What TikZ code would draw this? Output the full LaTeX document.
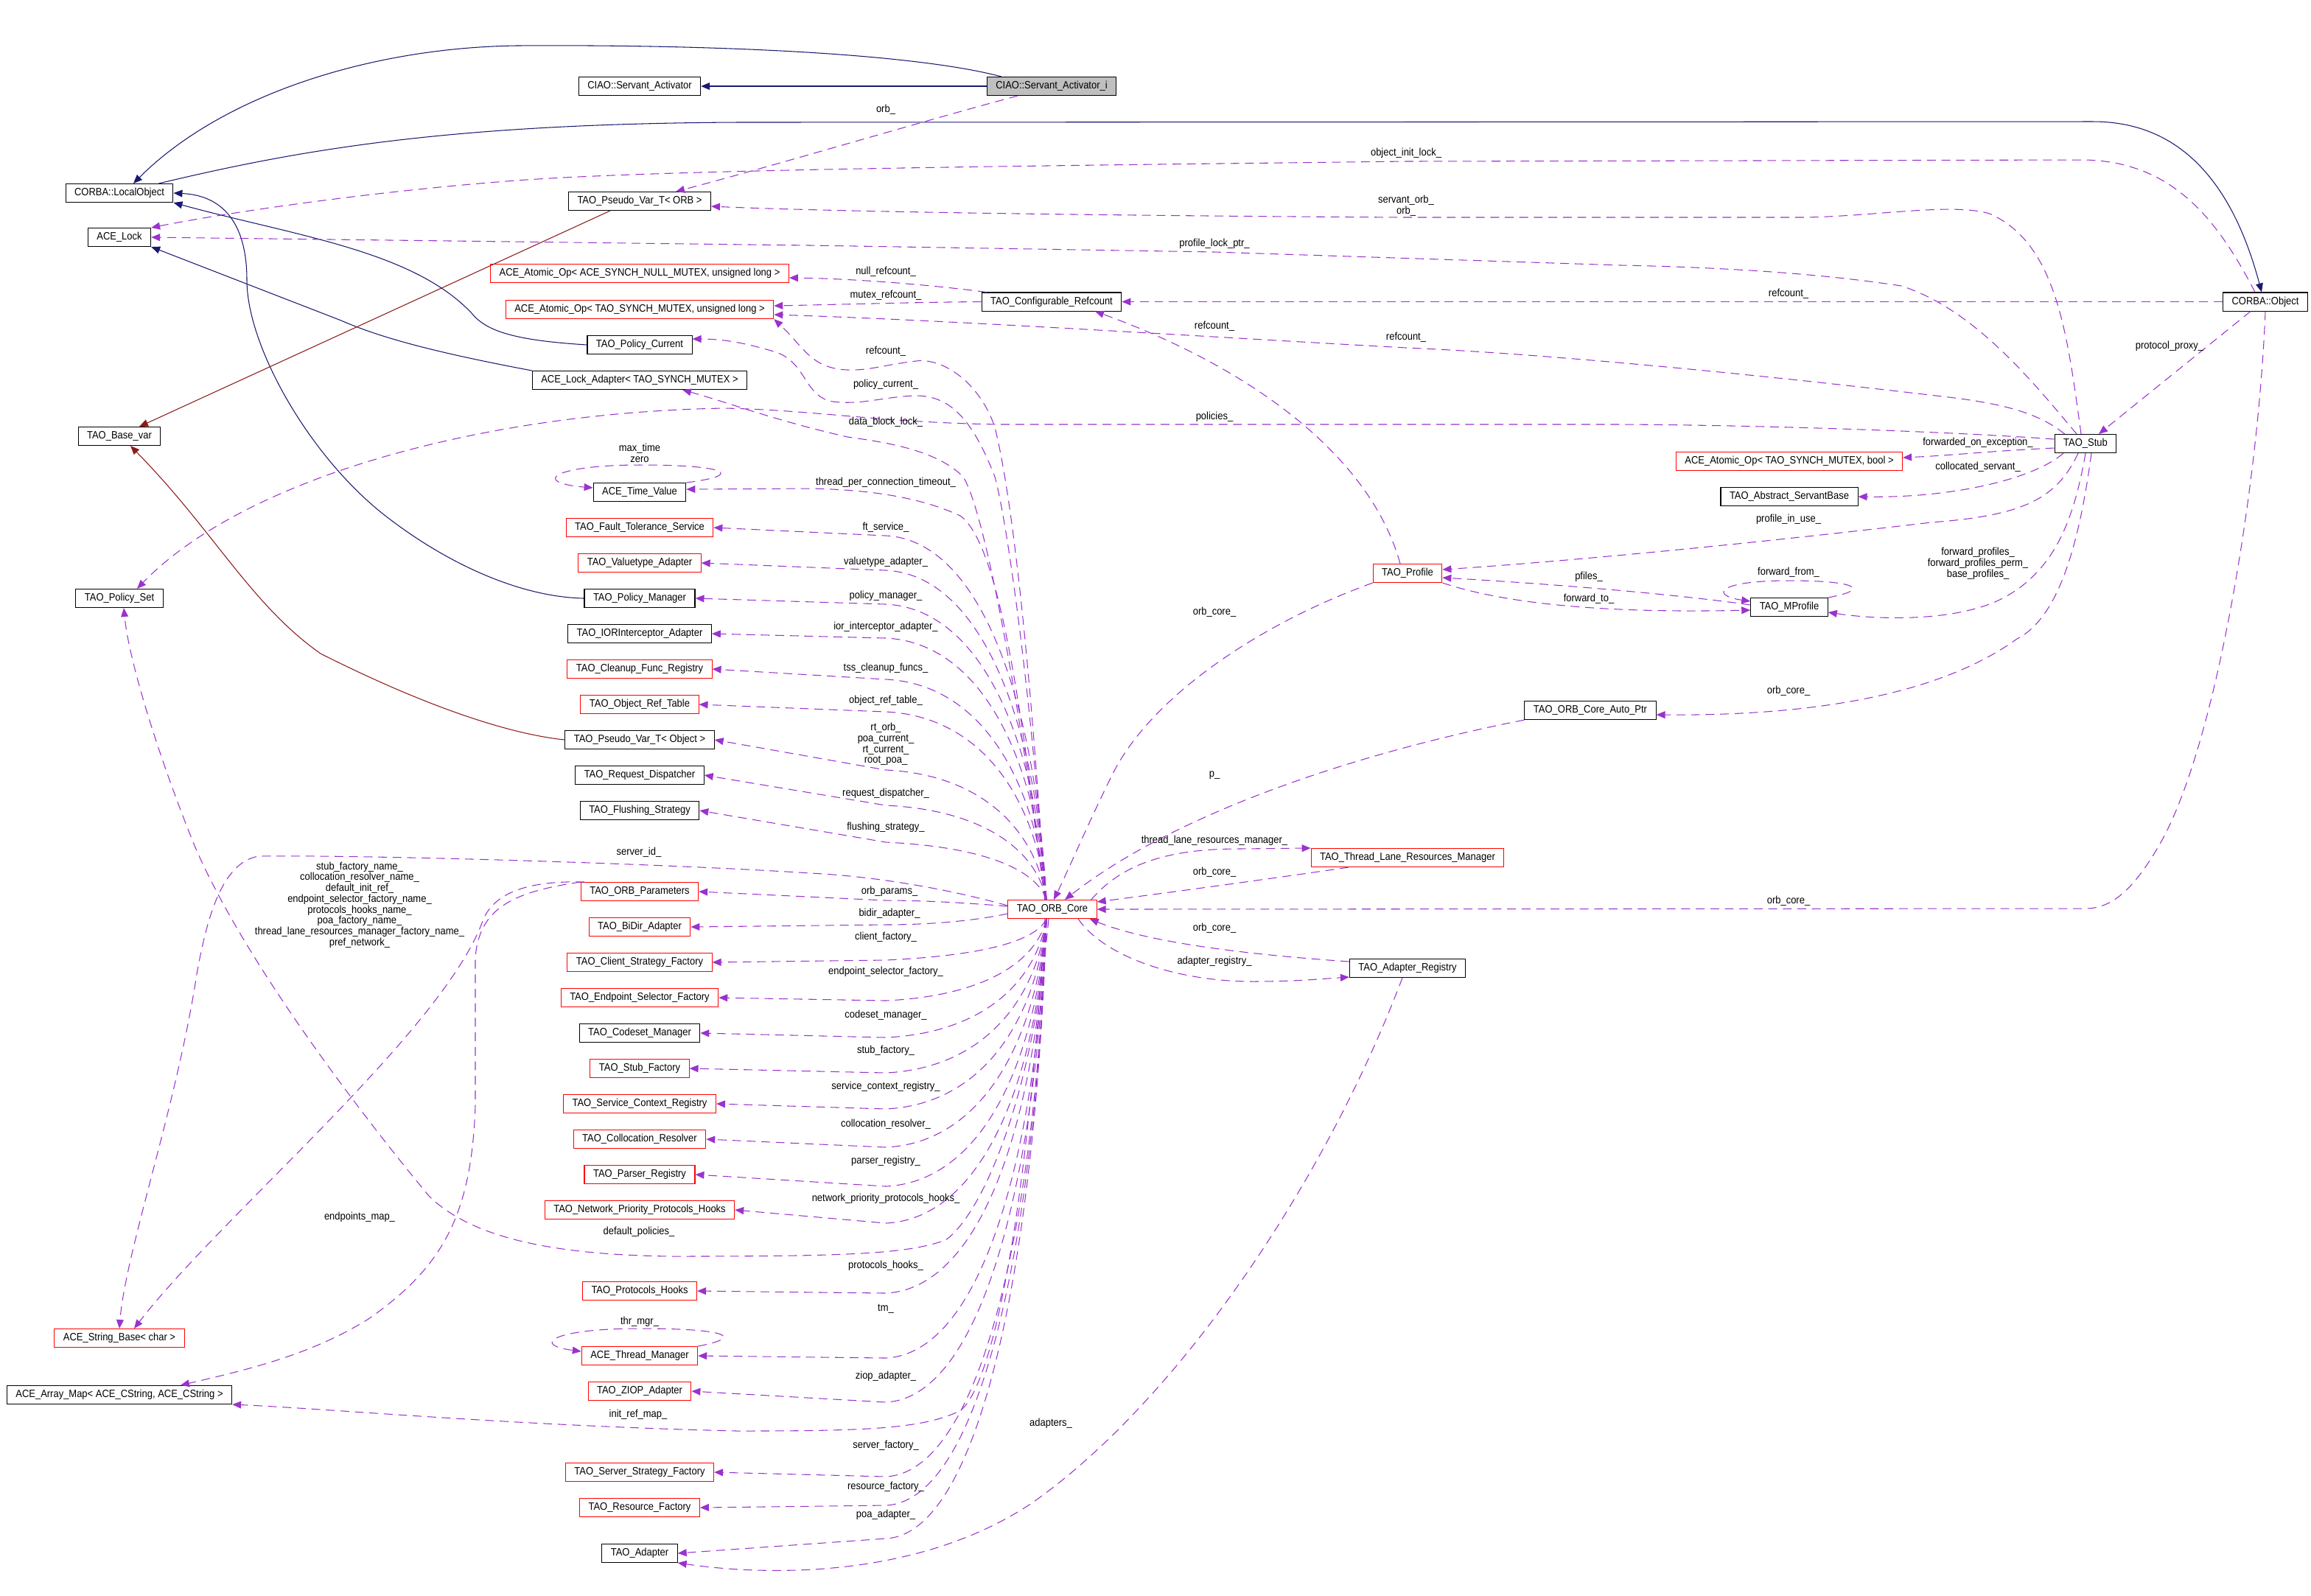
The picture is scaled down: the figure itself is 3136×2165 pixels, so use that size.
\documentclass[tikz,border=0pt]{standalone}
\usepackage{fontspec}
\setmainfont{Liberation Sans}[FakeStretch=0.9]
\usetikzlibrary{arrows.meta}
\definecolor{orchid}{HTML}{9A32CD}
\definecolor{nuit}{HTML}{191970}
\definecolor{brique}{HTML}{8B1A1A}
\definecolor{gris}{HTML}{BFBFBF}

\begin{document}
\begin{tikzpicture}[
  x=0.01cm, y=-0.01cm,
  font=\fontsize{4.1pt}{4.2pt}\selectfont,
  classe/.style={draw, line width=0.3pt, fill=white, inner xsep=0.12cm, inner ysep=0pt, minimum height=0.25cm},
  classeR/.style={classe, draw=red},
  herit/.style={draw=nuit, line width=0.3pt, -{Triangle[length=3.4pt, width=2.8pt]}},
  prive/.style={herit, draw=brique},
  usage/.style={draw=orchid, line width=0.3pt, dash pattern=on 3.4pt off 2.2pt, -{Triangle[length=3.4pt, width=2.8pt]}},
  etiq/.style={align=center, inner sep=0pt}
]
  \useasboundingbox (0,0) rectangle (3136,2165);
  % Classes
  \node[classe, fill=gris] (sai) at (1427,117) {CIAO::Servant\_Activator\_i};
  \node[classe] (sa) at (868,117) {CIAO::Servant\_Activator};
  \node[classe] (lobj) at (162,262) {CORBA::LocalObject};
  \node[classe] (lock) at (162,322) {ACE\_Lock};
  \node[classe] (pvorb) at (868,273) {TAO\_Pseudo\_Var\_T< ORB >};
  \node[classeR] (aonull) at (868,371) {ACE\_Atomic\_Op< ACE\_SYNCH\_NULL\_MUTEX, unsigned long >};
  \node[classeR] (aoul) at (868,420) {ACE\_Atomic\_Op< TAO\_SYNCH\_MUTEX, unsigned long >};
  \node[classe] (pcur) at (868,468) {TAO\_Policy\_Current};
  \node[classe] (lad) at (868,516) {ACE\_Lock\_Adapter< TAO\_SYNCH\_MUTEX >};
  \node[classe] (basevar) at (162,592) {TAO\_Base\_var};
  \node[classe] (tv) at (868,668) {ACE\_Time\_Value};
  \node[classe] (refc) at (1427,409.5) {TAO\_Configurable\_Refcount};
  \node[classe] (obj) at (3074,409.5) {CORBA::Object};
  \node[classe] (stub) at (2830,602) {TAO\_Stub};
  \node[classeR] (aobool) at (2428,626) {ACE\_Atomic\_Op< TAO\_SYNCH\_MUTEX, bool >};
  \node[classe] (asb) at (2428,674) {TAO\_Abstract\_ServantBase};
  \node[classeR] (ft) at (868,716) {TAO\_Fault\_Tolerance\_Service};
  \node[classeR] (vta) at (868,764) {TAO\_Valuetype\_Adapter};
  \node[classe] (pset) at (162,812) {TAO\_Policy\_Set};
  \node[classe] (pman) at (868,812) {TAO\_Policy\_Manager};
  \node[classe] (ior) at (868,860) {TAO\_IORInterceptor\_Adapter};
  \node[classeR] (cfr) at (868,908) {TAO\_Cleanup\_Func\_Registry};
  \node[classeR] (ort) at (868,956) {TAO\_Object\_Ref\_Table};
  \node[classe] (pvobj) at (868,1004) {TAO\_Pseudo\_Var\_T< Object >};
  \node[classe] (rd) at (868,1052) {TAO\_Request\_Dispatcher};
  \node[classe] (fs) at (868,1100) {TAO\_Flushing\_Strategy};
  \node[classeR] (op) at (868,1210) {TAO\_ORB\_Parameters};
  \node[classeR] (bidir) at (868,1258) {TAO\_BiDir\_Adapter};
  \node[classeR] (csf) at (868,1306) {TAO\_Client\_Strategy\_Factory};
  \node[classeR] (esf) at (868,1354) {TAO\_Endpoint\_Selector\_Factory};
  \node[classe] (csm) at (868,1402) {TAO\_Codeset\_Manager};
  \node[classeR] (sf) at (868,1450) {TAO\_Stub\_Factory};
  \node[classeR] (scr) at (868,1498) {TAO\_Service\_Context\_Registry};
  \node[classeR] (cr) at (868,1546) {TAO\_Collocation\_Resolver};
  \node[classeR] (pr) at (868,1594) {TAO\_Parser\_Registry};
  \node[classeR] (npph) at (868,1642) {TAO\_Network\_Priority\_Protocols\_Hooks};
  \node[classeR] (ph) at (868,1752) {TAO\_Protocols\_Hooks};
  \node[classeR] (tm) at (868,1840) {ACE\_Thread\_Manager};
  \node[classeR] (ziop) at (868,1888) {TAO\_ZIOP\_Adapter};
  \node[classeR] (ssf) at (868,1998) {TAO\_Server\_Strategy\_Factory};
  \node[classeR] (rf) at (868,2046) {TAO\_Resource\_Factory};
  \node[classe] (adp) at (868,2108) {TAO\_Adapter};
  \node[classeR] (sbase) at (162,1816) {ACE\_String\_Base< char >};
  \node[classe] (amap) at (162,1893) {ACE\_Array\_Map< ACE\_CString, ACE\_CString >};
  \node[classeR] (core) at (1428,1234) {TAO\_ORB\_Core};
  \node[classeR] (prof) at (1910,778) {TAO\_Profile};
  \node[classe] (mprof) at (2428,824) {TAO\_MProfile};
  \node[classe] (autop) at (2158,964) {TAO\_ORB\_Core\_Auto\_Ptr};
  \node[classeR] (tlrm) at (1910,1164) {TAO\_Thread\_Lane\_Resources\_Manager};
  \node[classe] (areg) at (1910,1314) {TAO\_Adapter\_Registry};

  % Heritage
  \draw[herit] (sai.west) -- (sa.east);
  \draw[herit] ([xshift=0.2cm]sai.north west) .. controls (1250,75) and (1000,60) .. (700,62) .. controls (500,65) and (300,130) .. ([xshift=0.19cm]lobj.north);
  \draw[herit] ([xshift=-0.2cm]lobj.north east) .. controls (400,205) and (600,168) .. (1000,166) -- (2840,165) .. controls (2960,165) and (3030,250) .. ([xshift=-0.05cm]obj.north);
  \draw[herit] (pcur.west) .. controls (700,462) and (660,450) .. (640,425) .. controls (560,340) and (400,320) .. (lobj.south east);
  \draw[herit] (pman.west) .. controls (700,810) and (600,760) .. (523,700) .. controls (420,620) and (335,470) .. (335,380) .. controls (335,300) and (300,265) .. (lobj.east);
  \draw[herit] (lad.north west) .. controls (600,480) and (520,460) .. (463,435) -- (lock.south east);
  \draw[prive] ([xshift=-0.4cm]pvorb.south) -- ([xshift=0.27cm]basevar.north);
  \draw[prive] (pvobj.west) .. controls (680,995) and (560,950) .. (435,887) .. controls (340,820) and (290,720) .. ([xshift=0.15cm]basevar.south);

  % Membres du Servant_Activator_i et de CORBA::Object
  \draw[usage] ([xshift=-0.46cm]sai.south) .. controls (1250,165) and (1050,225) .. ([xshift=0.49cm]pvorb.north) node[etiq] at (1202,149) {orb\_};
  \draw[usage] ([xshift=-0.14cm]obj.north) .. controls (3010,300) and (2950,220) .. (2830,217) -- (1908,219) .. controls (1400,225) and (900,230) .. (700,245) .. controls (500,260) and (300,290) .. (lock.north east) node[etiq] at (1908,208) {object\_init\_lock\_};
  \draw[usage] (obj.west) -- (refc.east) node[etiq] at (2427,399) {refcount\_};
  \draw[usage] ([xshift=-0.2cm]obj.south) -- ([xshift=0.18cm]stub.north) node[etiq] at (2944,470) {protocol\_proxy\_};
  \draw[usage] (obj.south) .. controls (3065,650) and (3010,1000) .. (2934,1140) .. controls (2900,1200) and (2870,1233) .. (2830,1233) -- (core.east) node[etiq] at (2427,1223) {orb\_core\_};

  % Membres de TAO_Stub
  \draw[usage] ([xshift=-0.06cm]stub.north) .. controls (2805,450) and (2790,330) .. (2700,290) .. controls (2650,275) and (2550,293) .. (2450,295) -- (1908,295) .. controls (1400,292) and (1100,286) .. ([yshift=-0.07cm]pvorb.east) node[etiq] at (1908,279) {servant\_orb\_\\orb\_};
  \draw[usage] ([xshift=-0.12cm]stub.north) .. controls (2760,520) and (2680,420) .. (2580,388) .. controls (2450,368) and (2300,362) .. (2200,360) -- (1648,342) -- (1100,333) -- (lock.east) node[etiq] at (1648,331) {profile\_lock\_ptr\_};
  \draw[usage] ([xshift=0.14cm]stub.north west) .. controls (2760,555) and (2700,545) .. (2618,536) .. controls (2400,510) and (2100,480) .. (1908,472) .. controls (1600,455) and (1300,435) .. ([yshift=-0.07cm]aoul.east) node[etiq] at (1908,458) {refcount\_};
  \draw[usage] ([yshift=0.06cm]stub.west) .. controls (2650,586) and (2400,577) .. (2200,576) -- (1360,576) .. controls (1200,574) and (1100,556) .. (982,554) .. controls (650,560) and (330,650) .. ([xshift=0.24cm]pset.north) node[etiq] at (1648,566) {policies\_};
  \draw[usage] ([yshift=-0.06cm]stub.west) .. controls (2700,612) and (2650,618) .. ([yshift=0.05cm]aobool.east) node[etiq] at (2684,601) {forwarded\_on\_exception\_};
  \draw[usage] ([xshift=-0.3cm]stub.south) .. controls (2760,650) and (2650,676) .. (asb.east) node[etiq] at (2684,634) {collocated\_servant\_};
  \draw[usage] ([xshift=-0.1cm]stub.south) .. controls (2790,680) and (2740,700) .. (2620,709) .. controls (2400,735) and (2150,760) .. ([yshift=0.05cm]prof.east) node[etiq] at (2427,705) {profile\_in\_use\_};
  \draw[usage] (stub.south) .. controls (2815,700) and (2790,780) .. (2707,817) .. controls (2640,845) and (2540,840) .. ([yshift=-0.07cm]mprof.east) node[etiq] at (2684,765) {forward\_profiles\_\\forward\_profiles\_perm\_\\base\_profiles\_};
  \draw[usage] ([xshift=0.08cm]stub.south) .. controls (2820,750) and (2790,840) .. (2737,867) .. controls (2650,930) and (2500,972) .. ([yshift=-0.06cm]autop.east) node[etiq] at (2427,938) {orb\_core\_};

  % Refcount, Profile, MProfile
  \draw[usage] ([xshift=0.07cm]refc.north west) .. controls (1250,385) and (1150,378) .. ([yshift=-0.06cm]aonull.east) node[etiq] at (1202,369) {null\_refcount\_};
  \draw[usage] (refc.west) .. controls (1250,410) and (1150,413) .. ([yshift=0.05cm]aoul.east) node[etiq] at (1202,401) {mutex\_refcount\_};
  \draw[usage] ([xshift=-0.1cm]prof.north) .. controls (1860,620) and (1700,500) .. ([xshift=0.59cm]refc.south) node[etiq] at (1648,443) {refcount\_};
  \draw[usage] (prof.south west) .. controls (1700,850) and (1560,950) .. (1510,1050) .. controls (1480,1110) and (1450,1180) .. ([xshift=0.02cm]core.north) node[etiq] at (1648,831) {orb\_core\_};
  \draw[usage] ([yshift=0.03cm]mprof.west) .. controls (2300,810) and (2150,795) .. ([yshift=-0.06cm]prof.east) node[etiq] at (2156,783) {pfiles\_};
  \draw[usage] (prof.south east) .. controls (2030,815) and (2150,833) .. ([yshift=-0.04cm]mprof.west) node[etiq] at (2156,813) {forward\_to\_};
  \draw[usage] (mprof.north east) .. controls (2540,800) and (2520,788) .. (2427,788) .. controls (2330,788) and (2320,808) .. ([yshift=0.08cm]mprof.west) node[etiq] at (2427,777) {forward\_from\_};

  % Autour de TAO_ORB_Core
  \draw[usage] (autop.south west) .. controls (1850,1020) and (1600,1100) .. ([xshift=0.17cm]core.north) node[etiq] at (1648,1052) {p\_};
  \draw[usage] ([xshift=-0.08cm]core.north east) .. controls (1520,1175) and (1580,1152) .. (1680,1152) -- (tlrm.north west) node[etiq] at (1648,1141) {thread\_lane\_resources\_manager\_};
  \draw[usage] ([xshift=-0.8cm]tlrm.south) .. controls (1700,1196) and (1580,1212) .. ([yshift=0.1cm]core.east) node[etiq] at (1648,1184) {orb\_core\_};
  \draw[usage] ([yshift=0.09cm]areg.west) .. controls (1700,1296) and (1560,1280) .. ([xshift=-0.1cm]core.south east) node[etiq] at (1648,1260) {orb\_core\_};
  \draw[usage] ([xshift=0.35cm]core.south) .. controls (1500,1300) and (1600,1332) .. (1700,1332) .. controls (1760,1332) and (1800,1328) .. ([yshift=-0.12cm]areg.west) node[etiq] at (1648,1305) {adapter\_registry\_};
  \draw[usage] ([xshift=-0.07cm]areg.south) .. controls (1800,1600) and (1600,1900) .. (1400,2040) .. controls (1250,2140) and (1050,2140) .. (adp.south east) node[etiq] at (1426,1932) {adapters\_};

  % Boucles
  \draw[usage] (tv.north east) .. controls (1010,645) and (990,631) .. (868,631) .. controls (750,631) and (720,655) .. ([yshift=0.06cm]tv.west) node[etiq] at (868,615) {max\_time\\zero};
  \draw[usage] (tm.north east) .. controls (1010,1815) and (990,1803) .. (868,1803) .. controls (750,1803) and (720,1825) .. ([yshift=0.06cm]tm.west) node[etiq] at (868,1794) {thr\_mgr\_};

  % Parametres de l'ORB
  \draw[usage] ([xshift=0.05cm]op.north west) .. controls (720,1195) and (670,1210) .. (655,1250) .. controls (600,1400) and (300,1650) .. ([xshift=0.2cm]sbase.north) node[etiq] at (488,1228) {stub\_factory\_name\_\\collocation\_resolver\_name\_\\default\_init\_ref\_\\endpoint\_selector\_factory\_name\_\\protocols\_hooks\_name\_\\poa\_factory\_name\_\\thread\_lane\_resources\_manager\_factory\_name\_\\pref\_network\_};
  \draw[usage] (op.north west) .. controls (700,1210) and (650,1230) .. (645,1300) -- (645,1500) .. controls (640,1650) and (600,1720) .. (500,1790) .. controls (420,1840) and (330,1860) .. ([xshift=0.83cm]amap.north) node[etiq] at (488,1652) {endpoints\_map\_};

  % Membres de TAO_ORB_Core (haut)
  \draw[usage] ([xshift=-0.1cm]core.north) .. controls (1405,1000) and (1380,700) .. (1350,580) .. controls (1330,520) and (1280,485) .. (1243,490) .. controls (1200,495) and (1180,503) .. (1150,502) .. controls (1100,500) and (1090,470) .. (aoul.south east) node[etiq] at (1202,477) {refcount\_};
  \draw[usage] ([xshift=-0.1cm]core.north) .. controls (1405,1000) and (1370,720) .. (1350,647) .. controls (1320,570) and (1290,537) .. (1243,537) .. controls (1200,538) and (1170,550) .. (1130,545) .. controls (1090,538) and (1095,490) .. (1050,477) .. controls (1010,465) and (980,460) .. ([yshift=0.08cm]pcur.east) node[etiq] at (1202,522) {policy\_current\_};
  \draw[usage] ([xshift=-0.1cm]core.north) .. controls (1390,1000) and (1340,700) .. (1307,647) .. controls (1270,610) and (1200,600) .. (1150,593) .. controls (1050,570) and (1000,550) .. ([xshift=0.58cm]lad.south) node[etiq] at (1202,573) {data\_block\_lock\_};
  \draw[usage] ([xshift=-0.1cm]core.north) .. controls (1390,1000) and (1360,740) .. (1303,700) .. controls (1260,680) and (1200,665) .. (1100,663) -- ([yshift=0.04cm]tv.east) node[etiq] at (1202,655) {thread\_per\_connection\_timeout\_};
  \foreach \cible/\ly/\ky/\txt in {ft/716/727/{ft\_service\_}, vta/763/774/{valuetype\_adapter\_}, pman/809/820/{policy\_manager\_}, ior/851/866/{ior\_interceptor\_adapter\_}, cfr/907/922/{tss\_cleanup\_funcs\_}, ort/951/966/{object\_ref\_table\_}, pvobj/1010/1045/{rt\_orb\_\\poa\_current\_\\rt\_current\_\\root\_poa\_}, rd/1077/1093/{request\_dispatcher\_}, fs/1123/1143/{flushing\_strategy\_}}
    \draw[usage] ([xshift=-0.08cm]core.north) .. controls (1405,{\ky+0.45*(1221-\ky)}) and (1330,{\ky+6}) .. (1202,\ky) -- (\cible.east) node[etiq] at (1202,\ly) {\txt};
  \draw[usage] ([yshift=0.05cm]core.west) .. controls (1300,1210) and (1200,1190) .. (1100,1185) .. controls (900,1172) and (500,1160) .. (351,1162) .. controls (300,1170) and (280,1250) .. (267,1322) .. controls (240,1500) and (170,1700) .. (sbase.north) node[etiq] at (867,1157) {server\_id\_};
  \draw[usage] ([yshift=0.04cm]core.west) .. controls (1320,1226) and (1260,1222) .. (1202,1222) -- (op.east) node[etiq] at (1207,1210) {orb\_params\_};
  \draw[usage] ([yshift=-0.06cm]core.west) .. controls (1320,1250) and (1260,1255) .. (1200,1255) -- (bidir.east) node[etiq] at (1207,1240) {bidir\_adapter\_};

  % Membres de TAO_ORB_Core (bas)
  \foreach \cible/\ly/\ky/\txt in {csf/1272/1303/{client\_factory\_}, esf/1319/1358/{endpoint\_selector\_factory\_}, csm/1378/1408/{codeset\_manager\_}, sf/1426/1456/{stub\_factory\_}, scr/1475/1505/{service\_context\_registry\_}, cr/1526/1557/{collocation\_resolver\_}, pr/1576/1610/{parser\_registry\_}, npph/1627/1660/{network\_priority\_protocols\_hooks\_}, ph/1718/1755/{protocols\_hooks\_}, tm/1776/1843/{tm\_}, ziop/1868/1903/{ziop\_adapter\_}, ssf/1962/2004/{server\_factory\_}, rf/2018/2043/{resource\_factory\_}, adp/2056/2088/{poa\_adapter\_}}
    \draw[usage] ([xshift=-0.08cm]core.south) .. controls (1405,{\ky-0.45*(\ky-1248)}) and (1330,{\ky-6}) .. (1202,\ky) -- (\cible.east) node[etiq] at (1202,\ly) {\txt};
  \draw[usage] ([xshift=-0.05cm]core.south) .. controls (1400,1500) and (1330,1650) .. (1283,1683) .. controls (1230,1702) and (1150,1705) .. (912,1705) .. controls (750,1703) and (640,1680) .. (582,1623) .. controls (480,1500) and (330,1300) .. (265,1150) .. controls (220,1040) and (175,900) .. ([xshift=0.06cm]pset.south) node[etiq] at (867,1672) {default\_policies\_};
  \draw[usage] ([xshift=-0.1cm]core.south) .. controls (1390,1700) and (1340,1890) .. (1302,1915) .. controls (1250,1940) and (1168,1942) .. (1000,1942) .. controls (700,1935) and (450,1912) .. (amap.south east) node[etiq] at (866,1920) {init\_ref\_map\_};
\end{tikzpicture}
\end{document}
